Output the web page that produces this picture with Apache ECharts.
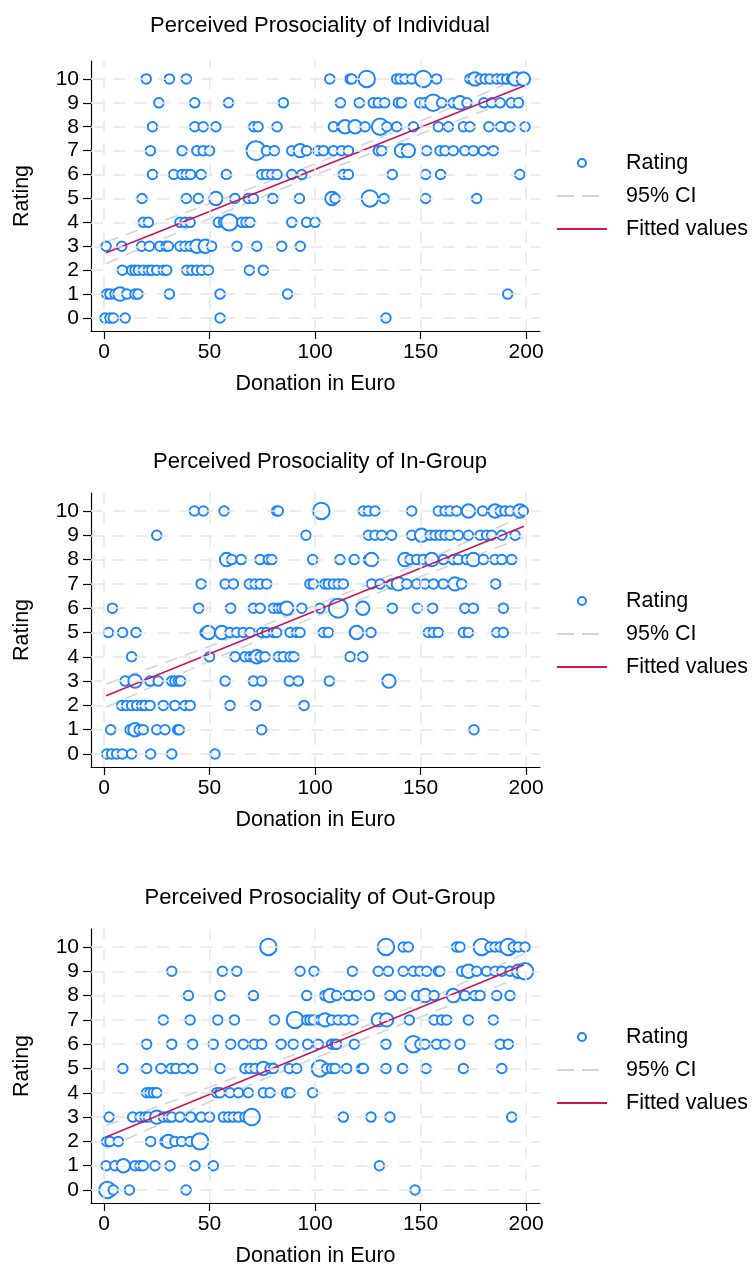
<!DOCTYPE html>
<html>
<head>
<meta charset="utf-8">
<script src="https://cdn.jsdelivr.net/npm/echarts@6/dist/echarts.min.js"></script>
<style>
html,body{margin:0;padding:0;background:#fff;}
#chart{width:752px;height:1268px;}
</style>
</head>
<body>
<div id="chart"></div>
<script>
// ---------- data ----------
const panelTitles = ["Perceived Prosociality of Individual", "Perceived Prosociality of In-Group", "Perceived Prosociality of Out-Group"];
const xAxisTitle = "Donation in Euro";
const yAxisTitle = "Rating";
const legendNames = ["Rating", "95% CI", "Fitted values"];
const xTicks = [0, 50, 100, 150, 200];
const yTicks = [0, 1, 2, 3, 4, 5, 6, 7, 8, 9, 10];

// [donation, rating, weight]
const individualPoints = [
  [20,10,1],[31,10,1],[39,10,1],[107,10,1],[116.6,10,1],[117.4,10,1],[124.5,10,3],[138.7,10,1],[140.3,10,1],[142.6,10,1],[145.8,10,1],[151.3,10,3],[157.6,10,1],[173.4,10,1],[175.8,10,2],[178.2,10,1],[180.6,10,1],[182.9,10,1],[186.1,10,1],[188.5,10,1],[190.8,10,1],[193.2,10,1],[194.8,10,2],[198.7,10,2],
  [26,9,1],[43,9,1],[59,9,1],[85,9,1],[112,9,1],[121,9,1],[127.6,9,1],[130,9,1],[133,9,1],[139.5,9,1],[141,9,1],[149.7,9,1],[152,9,1],[156,9,3],[160,9,1],[165.5,9,1],[168.7,9,2],[172,9,1],[180,9,1],[183.7,9,1],[187.7,9,1],[193,9,1],[196.4,9,1],
  [23,8,1],[43,8,1],[47,8,1],[53,8,1],[71,8,1],[73,8,1],[82,8,1],[108.7,8,1],[112.6,8,1],[114.2,8,2],[119,8,2],[123.7,8,1],[130.8,8,3],[134,8,1],[138.7,8,1],[146.6,8,1],[158.4,8,1],[163.2,8,1],[170.3,8,1],[173.4,8,1],[182.4,8,1],[188,8,1],[192.4,8,1],[199.5,8,1],
  [22,7,1],[37,7,1],[44,7,1],[47,7,1],[50,7,1],[72,7,4],[77,7,1],[80.7,7,1],[89,7,1],[93,7,2],[96,7,1],[101.5,7,1],[104,7,1],[108.7,7,1],[112.6,7,1],[115.8,7,1],[130,7,1],[131.6,7,1],[141,7,2],[144.2,7,2],[152.9,7,1],[159.2,7,1],[161.6,7,1],[165.5,7,1],[171,7,1],[175,7,1],[179.8,7,1],[184.5,7,1],
  [23,6,1],[33,6,1],[37,6,1],[39,6,1],[41,6,1],[46,6,1],[58,6,1],[74.7,6,1],[77,6,1],[79.5,6,1],[82,6,1],[89,6,1],[93.7,6,1],[113.4,6,1],[115.8,6,1],[136.6,6,1],[152.4,6,1],[159.5,6,1],[197,6,1],
  [18,5,1],[39,5,1],[44.7,5,1],[53,5,2],[62,5,1],[68.4,5,1],[70.8,5,1],[80,5,1],[92.6,5,1],[108,5,2],[109.5,5,1],[126,5,3],[132.7,5,1],[152.4,5,1],[176.6,5,1],
  [18.6,4,1],[21,4,1],[36,4,1],[38.4,4,1],[40.8,4,1],[54.2,4,1],[56.6,4,1],[59.4,4,3],[65.3,4,1],[67.3,4,1],[69.2,4,1],[89,4,1],[96,4,1],[100,4,1],
  [1,3,1],[8.4,3,1],[17.8,3,1],[21.5,3,1],[26.5,3,1],[29.4,3,1],[30.5,3,1],[36,3,1],[38.4,3,1],[40.8,3,1],[44,3,2],[48,3,2],[51,3,1],[63,3,1],[72.4,3,1],[84.2,3,1],[93,3,1],
  [8.7,2,1],[13.1,2,1],[14.7,2,1],[16.3,2,1],[18.6,2,1],[21,2,1],[22.6,2,1],[25,2,1],[28.1,2,1],[29.7,2,1],[39.2,2,1],[41.6,2,1],[43.9,2,1],[46.3,2,1],[49.5,2,1],[68.9,2,1],[75.5,2,1],
  [1.3,1,1],[2.8,1,1],[5.2,1,1],[7.6,1,2],[10.8,1,1],[14.7,1,1],[16.1,1,1],[31,1,1],[55,1,1],[87,1,1],[191.3,1,1],
  [0.5,0,1],[2.8,0,1],[4.4,0,1],[10,0,1],[55,0,1],[133.6,0,1]
];
const inGroupPoints = [
  [42.8,10,1],[47.1,10,1],[56.9,10,1],[81.8,10,1],[82.6,10,1],[103,10,3],[122.9,10,1],[125.3,10,1],[128.4,10,1],[145.8,10,1],[158.4,10,1],[161.6,10,1],[164,10,1],[167.1,10,1],[172.7,10,2],[179.4,10,1],[185.3,10,2],[187.7,10,1],[190,10,1],[192.4,10,1],[197.1,10,2],[198.7,10,1],
  [25,9,1],[95.7,9,1],[125.3,9,1],[128.4,9,1],[131.6,9,1],[136.3,9,1],[145.8,9,1],[150.5,9,2],[154.5,9,1],[156.9,9,1],[159.2,9,1],[161.6,9,1],[164,9,1],[167.9,9,1],[172.7,9,1],[178.2,9,1],[181.3,9,1],[183.7,9,1],[188.5,9,1],[194.8,9,1],
  [58.1,8,2],[60.5,8,1],[65,8,1],[73.9,8,1],[77.9,8,1],[79.5,8,1],[98.9,8,1],[111.8,8,1],[118.6,8,1],[125.3,8,1],[126.8,8,2],[142.6,8,2],[145,8,1],[148.2,8,1],[151.3,8,1],[155.3,8,2],[160.8,8,1],[165.5,8,1],[167.9,8,1],[171.9,8,1],[175,8,2],[179.8,8,1],[185.3,8,1],[188.5,8,1],[193.2,8,1],
  [46,7,1],[57.4,7,1],[61.3,7,1],[68.9,7,1],[71.6,7,1],[74,7,1],[77.1,7,1],[97.6,7,1],[99.2,7,1],[104.7,7,1],[106.3,7,1],[108.7,7,1],[111,7,1],[113.4,7,1],[126.8,7,1],[130.8,7,1],[136.3,7,1],[139.5,7,2],[143.4,7,1],[148.2,7,1],[152.1,7,1],[156.1,7,1],[160.8,7,1],[166.3,7,2],[169.5,7,1],[185.6,7,1],
  [4,6,1],[44.9,6,1],[60,6,1],[70.8,6,1],[74,6,1],[80.3,6,1],[82.6,6,1],[84.2,6,1],[86.6,6,2],[93.7,6,1],[102.3,6,1],[111,6,4],[122.6,6,2],[136.6,6,1],[148.5,6,1],[155.7,6,1],[171,6,1],[175,6,1],[189.2,6,1],
  [2.1,5,1],[8.8,5,1],[15.2,5,1],[47.9,5,1],[49.5,5,2],[55.8,5,2],[59.7,5,1],[62.9,5,1],[66,5,1],[69.2,5,1],[74.7,5,1],[77.1,5,1],[80.3,5,1],[81.8,5,1],[88.2,5,1],[91.3,5,1],[92.9,5,1],[103.9,5,1],[106.3,5,1],[118.6,5,1],[119.7,5,2],[126.5,5,1],[153.7,5,1],[156.1,5,1],[158.4,5,1],[170.3,5,1],[172.7,5,1],[186.1,5,1],[189.2,5,1],
  [13.1,4,1],[50,4,1],[62.1,4,1],[66.8,4,1],[69.2,4,1],[70.8,4,1],[72.4,4,2],[74,4,1],[76.3,4,1],[82.6,4,1],[85,4,1],[88.2,4,1],[90,4,1],[116.6,4,1],[122.6,4,1],
  [10,3,1],[14.7,3,2],[21.8,3,1],[25.7,3,1],[32.1,3,1],[33.6,3,1],[35.2,3,1],[36.3,3,1],[57.4,3,1],[70.8,3,1],[74.7,3,1],[87.8,3,1],[92.1,3,1],[106.8,3,1],[135,3,2],
  [8.4,2,1],[10.7,2,1],[13.1,2,1],[15.5,2,1],[17.8,2,1],[19.4,2,1],[21.8,2,1],[28.1,2,1],[33.6,2,1],[38.4,2,1],[40.8,2,1],[59.7,2,1],[71.9,2,1],[94.8,2,1],
  [3.2,1,1],[12.3,1,1],[14.7,1,2],[16.7,1,1],[18.6,1,1],[25,1,1],[28.9,1,1],[34.9,1,1],[35.7,1,1],[74.7,1,1],[175.3,1,1],
  [1.3,0,1],[3.6,0,1],[6,0,1],[8.7,0,1],[13.1,0,1],[22.1,0,1],[32.1,0,1],[52.6,0,1]
];
const outGroupPoints = [
  [77.9,10,3],[133.6,10,3],[141.8,10,1],[144.2,10,1],[167.1,10,1],[168.7,10,1],[179,10,3],[182.9,10,1],[185.3,10,1],[187.7,10,1],[191.6,10,3],[194,10,1],[196.4,10,1],[199.5,10,1],
  [32.1,9,1],[56.1,9,1],[62.9,9,1],[92.9,9,1],[99.5,9,1],[117.7,9,1],[130,9,1],[134.7,9,1],[141.8,9,1],[146.6,9,1],[149.7,9,1],[152.9,9,1],[158.4,9,1],[159.2,9,1],[169.5,9,1],[172.7,9,2],[176.6,9,1],[181.3,9,1],[185.3,9,1],[188.5,9,1],[192.4,9,1],[196.4,9,2],[199.5,9,3],
  [40,8,1],[55,8,1],[70.8,8,1],[96.1,8,1],[104.7,8,1],[107.1,8,2],[110.2,8,1],[115.8,8,1],[119.7,8,1],[125.7,8,1],[135.5,8,1],[140.6,8,1],[148.2,8,1],[152.1,8,2],[156.4,8,1],[165.5,8,2],[171,8,1],[175.8,8,1],[178.2,8,1],[186.1,8,1],[192.4,8,1],
  [28.1,7,1],[40.8,7,1],[53.9,7,1],[61.8,7,1],[80.7,7,1],[90.5,7,3],[96.1,7,1],[97.6,7,1],[99.2,7,1],[102.4,7,1],[104.7,7,2],[107.9,7,1],[111,7,1],[114.2,7,1],[118.1,7,1],[130,7,2],[133.9,7,2],[144.7,7,1],[156.4,7,1],[160,7,1],[162.4,7,1],[172.7,7,1],[184.5,7,1],
  [20.2,6,1],[32.1,6,1],[42,6,1],[51.8,6,1],[60,6,1],[66,6,1],[71.3,6,1],[74.7,6,1],[83.9,6,1],[89.7,6,1],[96.5,6,1],[101.5,6,1],[107.9,6,1],[109.5,6,1],[110.2,6,1],[118.6,6,1],[133.6,6,1],[146.6,6,3],[149.7,6,1],[152.1,6,1],[157.6,6,1],[161.6,6,1],[168.7,6,1],[187.7,6,1],[191.6,6,1],
  [8.9,5,1],[20.2,5,1],[27,5,1],[31.8,5,1],[34.1,5,1],[37.6,5,1],[42,5,1],[55,5,1],[66.8,5,1],[69.2,5,1],[71.6,5,1],[75.5,5,2],[78.7,5,1],[80.3,5,1],[87.8,5,1],[91.3,5,1],[102.3,5,3],[105.5,5,1],[107.9,5,1],[109.5,5,1],[115,5,1],[122.1,5,1],[122.9,5,1],[133.6,5,1],[141.5,5,1],[152.6,5,1],[170.3,5,1],[188.5,5,1],
  [20.2,4,1],[21.8,4,1],[23.4,4,1],[25,4,1],[53.4,4,1],[55,4,1],[59.7,4,1],[63.7,4,1],[68.4,4,1],[75.5,4,1],[78.7,4,1],[86.6,4,1],[88.2,4,1],[98.9,4,1],
  [2.4,3,1],[13.6,3,1],[17.1,3,1],[19.4,3,1],[21,3,1],[25,3,2],[28.1,3,1],[30.5,3,1],[32.1,3,1],[36,3,1],[41.1,3,1],[46,3,1],[50,3,1],[56.6,3,1],[59,3,1],[61.3,3,1],[63.7,3,1],[66.8,3,1],[70,3,3],[113.4,3,1],[126.5,3,1],[135.5,3,1],[193.2,3,1],
  [1.3,2,1],[2.8,2,1],[6.8,2,1],[22.1,2,1],[28.9,2,1],[30.5,2,2],[33.6,2,1],[36.8,2,1],[40.8,2,1],[43.9,2,1],[45.5,2,3],
  [1,1,1],[5.2,1,1],[9.2,1,2],[14.7,1,1],[17.1,1,1],[18.6,1,1],[24.2,1,1],[31.3,1,1],[43.1,1,1],[51.8,1,1],[130.5,1,1],
  [1.6,0,3],[4.4,0,1],[12,0,1],[38.9,0,1],[147.4,0,1]
];

// fitted line and 95% CI, read at these donation values
const fitX = [1, 199];
const individualFit = [2.73, 9.70];
const inGroupFit = [2.40, 9.37];
const outGroupFit = [2.18, 9.27];
const ciX = [1, 50, 100, 150, 199];
const individualCiUpper = [3.18, 4.78, 6.44, 8.24, 10.12];
const individualCiLower = [2.28, 4.16, 5.98, 7.70, 9.28];
const inGroupCiUpper = [2.88, 4.43, 6.11, 7.86, 9.82];
const inGroupCiLower = [1.92, 3.83, 5.65, 7.30, 8.92];
const outGroupCiUpper = [2.65, 4.23, 5.90, 7.68, 9.72];
const outGroupCiLower = [1.71, 3.63, 5.44, 7.12, 8.82];

// ---------- chart ----------
const panels = [
  {pts: individualPoints, fit: individualFit, up: individualCiUpper, lo: individualCiLower},
  {pts: inGroupPoints, fit: inGroupFit, up: inGroupCiUpper, lo: inGroupCiLower},
  {pts: outGroupPoints, fit: outGroupFit, up: outGroupCiUpper, lo: outGroupCiLower}
];
const layout = [
  {top: 61, height: 270, ymin: -0.544, ymax: 10.75, titleTop: 10, legendTop: 152},
  {top: 493, height: 274, ymin: -0.535, ymax: 10.74, titleTop: 446, legendTop: 590},
  {top: 929, height: 274, ymin: -0.535, ymax: 10.74, titleTop: 882, legendTop: 1026}
];
const FONT = "Liberation Sans";
const BLUE = "#1a85ff", RED = "#d41159", CI = "#d4d4d4", GRID = "#e6e6e6";
const FS = 21.5, TFS = 21, TITLE_FS = 22;

const chart = echarts.init(document.getElementById('chart'), null, {renderer: 'canvas'});
const option = {
  animation: false,
  backgroundColor: '#fff',
  textStyle: {fontFamily: FONT},
  title: layout.map((l, i) => ({
    text: panelTitles[i], left: 315, top: l.titleTop, textAlign: 'center',
    textStyle: {fontFamily: FONT, fontSize: TITLE_FS, fontWeight: 'normal', color: '#000'}
  })),
  legend: layout.map((l, i) => ({
    orient: 'vertical', left: 556, top: l.legendTop, itemWidth: 50, itemHeight: 8, itemGap: 11,
    padding: 0, selectedMode: false,
    data: [
      {name: legendNames[0], icon: 'emptyCircle', itemStyle: {color: BLUE, borderColor: BLUE, borderWidth: 1.6}},
      {name: legendNames[1], itemStyle: {opacity: 0, color: 'rgba(0,0,0,0)', borderWidth: 0}, lineStyle: {color: CI, width: 2, type: [17, 8]}},
      {name: legendNames[2], itemStyle: {opacity: 0, color: 'rgba(0,0,0,0)', borderWidth: 0}, lineStyle: {color: RED, width: 1.8}}
    ],
    textStyle: {fontFamily: FONT, fontSize: FS, color: '#000', lineHeight: 22, padding: [0, 0, 0, 14]}
  })),
  grid: layout.map(l => ({left: 91, width: 449, top: l.top, height: l.height, containLabel: false})),
  xAxis: layout.map((l, i) => ({
    gridIndex: i, type: 'value', min: -6.16, max: 206.6,
    name: xAxisTitle, nameLocation: 'middle', nameGap: 42,
    nameTextStyle: {fontFamily: FONT, fontSize: FS, color: '#000'},
    axisLine: {show: true, onZero: false, lineStyle: {color: '#000', width: 1.2}},
    axisTick: {show: true, length: 8, customValues: xTicks, lineStyle: {color: '#000', width: 1.2}},
    axisLabel: {customValues: xTicks, fontFamily: FONT, fontSize: TFS, color: '#000', margin: 11},
    splitLine: {show: false}
  })),
  yAxis: layout.map((l, i) => ({
    gridIndex: i, type: 'value', min: l.ymin, max: l.ymax,
    name: yAxisTitle, nameLocation: 'middle', nameGap: 58, nameRotate: 90,
    nameTextStyle: {fontFamily: FONT, fontSize: FS, color: '#000'},
    axisLine: {show: true, onZero: false, lineStyle: {color: '#000', width: 1.2}},
    axisTick: {show: true, length: 8, customValues: yTicks, lineStyle: {color: '#000', width: 1.2}},
    axisLabel: {customValues: yTicks, fontFamily: FONT, fontSize: TFS, color: '#000', margin: 12},
    splitLine: {show: false}
  })),
  series: []
};

panels.forEach((p, i) => {
  option.series.push({
    name: legendNames[1], type: 'line', xAxisIndex: i, yAxisIndex: i, z: 1,
    data: ciX.map((x, k) => [x, p.up[k]]),
    symbol: 'none', silent: true,
    lineStyle: {color: CI, width: 1.6, type: [13, 8]},
    itemStyle: {color: CI},
    markLine: {
      silent: true, symbol: 'none', label: {show: false}, animation: false,
      lineStyle: {color: GRID, width: 1.5, type: [12, 10]},
      data: yTicks.map(v => ({yAxis: v})).concat(xTicks.map(v => ({xAxis: v})))
    }
  });
  option.series.push({
    name: legendNames[1], type: 'line', xAxisIndex: i, yAxisIndex: i, z: 1,
    data: ciX.map((x, k) => [x, p.lo[k]]),
    symbol: 'none', silent: true,
    lineStyle: {color: CI, width: 1.6, type: [13, 8]},
    itemStyle: {color: CI}
  });
  option.series.push({
    name: legendNames[0], type: 'scatter', xAxisIndex: i, yAxisIndex: i, z: 3,
    data: p.pts,
    symbol: 'emptyCircle',
    symbolSize: v => 9.5 * Math.sqrt(v[2]),
    itemStyle: {color: BLUE, borderColor: BLUE, borderWidth: 1.6, opacity: 1}
  });
  option.series.push({
    name: legendNames[2], type: 'line', xAxisIndex: i, yAxisIndex: i, z: 4,
    data: fitX.map((x, k) => [x, p.fit[k]]),
    symbol: 'none', silent: true,
    lineStyle: {color: RED, width: 1.6},
    itemStyle: {color: RED}
  });
});

chart.setOption(option);
</script>
</body>
</html>
